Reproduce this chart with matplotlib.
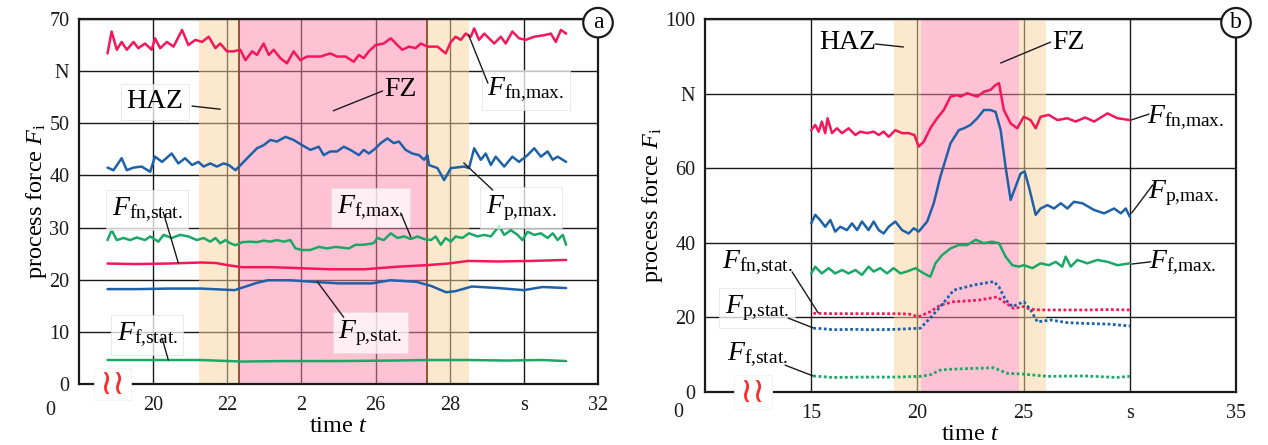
import numpy as np
import matplotlib.pyplot as plt
from matplotlib.patches import Rectangle

plt.rcParams['font.family'] = ['Liberation Serif', 'DejaVu Serif']
plt.rcParams['mathtext.fontset'] = 'custom'
plt.rcParams['mathtext.rm'] = 'Liberation Serif'
plt.rcParams['mathtext.it'] = 'Liberation Serif:italic'

# ---- panel a data ----
a_fn_max_t = [18.77, 18.88, 19.02, 19.15, 19.29, 19.47, 19.6, 19.78, 19.96, 20.05, 20.19, 20.37, 20.55, 20.78, 20.95,
              21.14, 21.32, 21.5, 21.68, 21.81, 21.99, 22.17, 22.35, 22.49, 22.67, 22.8, 22.98, 23.12, 23.25, 23.43,
              23.61, 23.79, 23.97, 24.15, 24.51, 24.78, 24.96, 25.19, 25.41, 25.55, 25.68, 25.82, 26.0, 26.22, 26.41,
              26.59, 26.72, 26.9, 27.08, 27.22, 27.4, 27.67, 27.89, 28.03, 28.16, 28.3, 28.43, 28.57, 28.66, 28.79,
              28.93, 29.06, 29.2, 29.38, 29.51, 29.69, 29.87, 30.05, 30.28, 30.55, 30.73, 30.86, 31.0, 31.14]
a_fn_max = [63.4, 67.6, 64.1, 65.6, 64.1, 65.6, 64.4, 65.3, 64.1, 66.3, 64.4, 65.6, 64.7, 67.9, 65.0,
            66.0, 65.6, 66.6, 64.4, 65.3, 63.8, 63.8, 64.1, 62.1, 63.8, 63.1, 65.3, 63.1, 64.1, 62.5,
            61.5, 63.8, 62.1, 62.8, 62.8, 63.4, 62.8, 62.8, 61.8, 63.1, 62.5, 63.8, 65.0, 65.3, 66.3,
            65.0, 64.1, 64.7, 64.4, 65.3, 64.7, 64.7, 63.4, 65.6, 66.6, 66.0, 67.2, 66.6, 68.2, 66.0,
            67.2, 66.3, 65.3, 66.6, 65.3, 67.6, 66.3, 66.0, 66.6, 66.9, 67.2, 65.6, 67.9, 67.2]

a_p_max_t = [18.77, 18.93, 19.15, 19.29, 19.47, 19.69, 19.92, 20.05, 20.24, 20.5, 20.68, 20.86, 21.05, 21.22, 21.36,
             21.54, 21.72, 21.9, 22.04, 22.22, 22.4, 22.62, 22.8, 22.98, 23.16, 23.34, 23.57, 23.79, 24.02, 24.24,
             24.47, 24.6, 24.78, 24.96, 25.14, 25.32, 25.55, 25.68, 25.82, 26.0, 26.14, 26.32, 26.49, 26.63, 26.81,
             26.99, 27.17, 27.31, 27.4, 27.44, 27.67, 27.85, 28.03, 28.39, 28.52, 28.66, 28.84, 28.97, 29.11, 29.24,
             29.47, 29.69, 29.87, 30.1, 30.28, 30.46, 30.64, 30.78, 30.91, 31.14]
a_p_max = [41.5, 41.0, 43.3, 41.0, 41.5, 41.7, 40.7, 43.6, 42.6, 44.2, 42.3, 43.3, 42.0, 42.6, 41.7,
           42.3, 41.7, 42.3, 42.0, 41.0, 42.3, 43.9, 45.2, 45.8, 46.8, 46.5, 47.4, 46.8, 45.8, 44.9,
           45.5, 43.9, 44.6, 44.6, 45.5, 44.9, 43.9, 44.9, 44.2, 45.2, 46.2, 47.1, 46.2, 46.5, 44.9,
           44.2, 43.9, 43.0, 43.9, 42.0, 41.4, 39.1, 41.4, 41.7, 41.4, 45.2, 43.0, 44.2, 42.0, 43.6,
           41.7, 43.6, 42.6, 43.9, 45.2, 43.6, 44.6, 43.0, 43.6, 42.6]

a_f_max_t = [18.77, 18.88, 19.02, 19.2, 19.38, 19.56, 19.78, 19.92, 20.14, 20.28, 20.5, 20.73, 20.95, 21.18, 21.36,
             21.54, 21.68, 21.81, 21.95, 22.08, 22.22, 22.4, 22.62, 22.8, 22.98, 23.16, 23.34, 23.52, 23.7, 23.84,
             24.02, 24.24, 24.47, 24.69, 24.92, 25.28, 25.46, 25.68, 25.95, 26.05, 26.22, 26.41, 26.59, 26.77, 26.95,
             27.13, 27.31, 27.49, 27.62, 27.76, 27.89, 28.03, 28.16, 28.34, 28.52, 28.75, 28.93, 29.11, 29.33, 29.47,
             29.65, 29.83, 29.96, 30.1, 30.28, 30.46, 30.64, 30.78, 30.91, 31.05, 31.14]
a_f_max = [27.6, 29.5, 27.6, 28.0, 27.6, 28.1, 27.6, 28.3, 27.3, 28.6, 28.0, 28.6, 28.3, 27.6, 28.0,
           27.3, 28.0, 27.0, 27.6, 27.0, 26.6, 27.2, 27.3, 27.2, 27.5, 27.3, 27.6, 27.3, 27.6, 26.0,
           25.7, 25.7, 26.3, 26.0, 26.3, 26.0, 26.7, 26.7, 27.0, 28.0, 27.6, 28.9, 28.0, 28.3, 27.8,
           28.3, 27.8, 27.6, 28.3, 26.7, 28.0, 27.3, 28.3, 28.0, 28.9, 28.3, 28.6, 28.3, 30.3, 28.6,
           29.5, 28.6, 27.6, 29.2, 28.6, 28.9, 28.0, 28.9, 27.6, 28.6, 26.7]

a_fn_stat_t = [18.77, 19.5, 20.4, 21.3, 21.7, 22.0, 22.4, 23.2, 24.0, 24.8, 25.7, 26.6, 27.4, 27.95, 28.5, 29.3, 30.2, 31.14]
a_fn_stat = [23.1, 23.0, 23.1, 23.3, 23.2, 22.8, 22.4, 22.4, 22.2, 22.0, 22.0, 22.5, 22.8, 23.1, 23.6, 23.5, 23.6, 23.8]

a_p_stat_t = [18.77, 19.6, 20.4, 21.3, 22.2, 22.5, 22.8, 23.1, 23.7, 24.3, 25.0, 25.9, 26.4, 27.1, 27.5, 27.9,
              28.15, 28.6, 29.3, 30.0, 30.5, 31.14]
a_p_stat = [18.2, 18.2, 18.3, 18.3, 18.0, 18.7, 19.4, 19.9, 19.9, 19.6, 19.3, 19.3, 19.9, 19.6, 18.8, 17.6,
            17.8, 18.7, 18.4, 18.0, 18.6, 18.4]

a_f_stat_t = [18.77, 20.0, 21.3, 22.4, 23.5, 25.0, 26.5, 27.4, 28.5, 29.5, 30.5, 31.14]
a_f_stat = [4.6, 4.6, 4.6, 4.3, 4.4, 4.4, 4.5, 4.6, 4.6, 4.5, 4.6, 4.4]

# ---- panel b data ----
b_fn_max_t = [15.0, 15.19, 15.35, 15.5, 15.66, 15.77, 15.98, 16.21, 16.45, 16.76, 17.08, 17.31, 17.63, 17.94, 18.18,
              18.41, 18.65, 18.96, 19.28, 19.59, 19.86, 20.06, 20.3, 20.61, 20.93, 21.24, 21.56, 21.87, 22.03, 22.34,
              22.82, 23.13, 23.44, 23.68, 23.84, 24.07, 24.39, 24.7, 25.01, 25.33, 25.57, 25.8, 26.19, 26.59, 27.06,
              27.45, 27.9, 28.32, 28.95, 29.42, 30.0]
b_fn_max = [70.2, 71.6, 69.8, 72.5, 69.4, 73.4, 69.4, 70.7, 69.4, 70.7, 68.9, 69.8, 69.4, 69.8, 68.9,
            69.8, 68.4, 70.2, 69.4, 69.4, 68.9, 65.8, 67.1, 70.7, 73.4, 75.6, 79.2, 79.6, 79.2, 80.1,
            79.2, 80.5, 81.0, 82.3, 82.8, 75.6, 72.0, 70.7, 73.8, 72.9, 70.7, 73.8, 74.3, 72.9, 73.4,
            72.5, 73.6, 72.5, 74.7, 73.4, 72.9]

b_p_max_t = [15.0, 15.19, 15.42, 15.66, 15.9, 16.13, 16.37, 16.68, 16.92, 17.16, 17.39, 17.7, 17.94, 18.18, 18.41,
             18.65, 18.96, 19.28, 19.59, 19.83, 20.06, 20.46, 20.77, 21.08, 21.56, 21.95, 22.19, 22.5, 22.82, 23.13,
             23.44, 23.68, 23.92, 24.15, 24.39, 24.62, 24.86, 25.05, 25.25, 25.57, 25.8, 26.12, 26.43, 26.75, 27.06,
             27.37, 27.77, 28.32, 28.79, 29.26, 29.58, 29.81, 30.0]
b_p_max = [45.2, 47.5, 46.1, 44.3, 46.1, 43.0, 44.3, 43.4, 45.2, 43.4, 45.7, 43.4, 45.7, 43.4, 42.5,
           44.3, 45.7, 43.4, 42.5, 43.9, 43.0, 45.7, 50.6, 57.7, 66.7, 70.2, 70.7, 71.6, 73.4, 75.6,
           75.6, 75.1, 70.2, 60.4, 51.5, 55.0, 58.6, 59.1, 55.0, 47.5, 49.2, 50.1, 49.2, 50.6, 49.2,
           51.0, 50.6, 48.8, 47.9, 49.2, 47.9, 49.2, 47.0]

b_f_max_t = [15.0, 15.19, 15.5, 15.82, 16.13, 16.45, 16.76, 17.08, 17.39, 17.7, 17.94, 18.25, 18.57, 18.88, 19.2,
             19.51, 19.91, 20.3, 20.61, 20.85, 21.16, 21.56, 21.95, 22.34, 22.74, 23.13, 23.52, 23.84, 24.15, 24.47,
             24.78, 25.01, 25.41, 25.8, 26.19, 26.51, 26.82, 26.98, 27.22, 27.53, 28.0, 28.48, 28.95, 29.42, 30.0]
b_f_max = [31.8, 33.6, 31.8, 33.2, 31.8, 32.7, 31.8, 32.7, 31.4, 33.6, 32.3, 33.2, 31.8, 33.2, 31.8,
           32.3, 33.2, 31.8, 30.9, 34.5, 36.7, 38.5, 39.4, 39.4, 40.8, 39.9, 40.3, 39.9, 36.3, 34.0,
           33.6, 34.0, 33.2, 34.5, 34.0, 34.9, 33.6, 36.3, 33.6, 35.4, 34.5, 35.4, 34.9, 34.0, 34.5]

b_fn_stat_t = [15.1, 16.0, 17.0, 18.0, 19.0, 19.6, 20.05, 20.6, 21.08, 21.7, 22.3, 22.97, 23.76, 24.07, 24.54,
               25.0, 25.3, 25.8, 26.9, 28.0, 29.0, 30.0]
b_fn_stat = [21.1, 21.0, 21.0, 21.0, 21.0, 20.9, 20.2, 21.5, 23.3, 24.2, 24.4, 24.7, 25.5, 24.2, 22.4,
             22.9, 22.2, 22.0, 22.0, 22.0, 22.1, 22.0]

b_p_stat_t = [15.1, 15.5, 16.0, 17.0, 17.9, 19.0, 20.14, 20.6, 21.08, 21.71, 22.66, 23.6, 23.84, 24.15, 24.47,
              25.01, 25.33, 25.65, 26.27, 27.06, 27.85, 29.0, 30.0]
b_p_stat = [17.1, 17.0, 16.7, 16.8, 16.7, 16.8, 17.1, 19.8, 22.9, 27.3, 28.7, 29.6, 28.2, 24.7, 22.9,
            24.2, 22.0, 18.8, 19.3, 18.6, 18.4, 18.2, 17.7]

b_f_stat_t = [15.1, 16.0, 17.5, 19.0, 20.14, 20.6, 21.08, 21.56, 22.5, 23.6, 24.23, 25.0, 26.1, 27.85, 29.4, 30.0]
b_f_stat = [4.3, 3.9, 4.0, 4.0, 4.2, 4.6, 5.9, 6.1, 6.3, 6.5, 5.0, 4.8, 4.2, 4.3, 3.9, 4.2]

RED = '#f5175a'
BLUE = '#1d61a8'
GREEN = '#19a865'
HAZ_C = '#fbd29a'
FZ_C = '#ff86aa'
INK = '#1a1a1a'

BOX = dict(boxstyle='square,pad=0.2', fc='white', ec='#dddddd', lw=0.6, alpha=0.75)


def setup(ax, xlim, ylim, xt, xtl, yt, ytl):
    ax.set_xlim(*xlim)
    ax.set_ylim(*ylim)
    ax.set_xticks(xt)
    ax.set_xticklabels(xtl)
    ax.set_yticks(yt)
    ax.set_yticklabels(ytl)
    ax.set_axisbelow(True)
    ax.grid(True, color=INK, lw=1.0)
    for s in ax.spines.values():
        s.set_linewidth(1.6)
        s.set_color(INK)
    ax.tick_params(length=0, labelsize=14.5, colors=INK)
    ax.tick_params(axis='x', pad=9)
    ax.tick_params(axis='y', pad=7)
    ax.set_xlabel('time $t$', fontsize=17.5, labelpad=0)
    ax.set_ylabel('process force $F_\\mathrm{i}$', fontsize=17.5, labelpad=0)


def note(ax, txt, xy_text, xy_end, xy_start, box=True, size=20):
    ax.text(*xy_text, txt, fontsize=size, ha='center', va='center',
            bbox=BOX if box else None, zorder=6)
    ax.annotate('', xy=xy_end, xytext=xy_start,
                arrowprops=dict(arrowstyle='-', lw=1.0, color=INK, shrinkA=0, shrinkB=0), zorder=6)


def marks(ax, label, bx, origin_off):
    ax.text(1.0, 0.99, label, transform=ax.transAxes, fontsize=17, ha='center', va='center',
            bbox=dict(boxstyle='circle,pad=0.18', fc='white', ec=INK, lw=1.6), zorder=8, clip_on=False)
    ax.add_patch(Rectangle((bx - 0.036, -0.045), 0.072, 0.09, transform=ax.transAxes, fc='white',
                           ec='#eeeeee', lw=0.5, zorder=7, clip_on=False))
    ax.text(bx, 0.0, '\u2240\u2240', transform=ax.transAxes, fontsize=25, color='#ff2a2a',
            ha='center', va='center', family='DejaVu Sans', zorder=8, clip_on=False)
    ax.annotate('0', xy=(0, 0), xycoords='axes fraction', xytext=origin_off, textcoords='offset points',
                fontsize=14.5, ha='center', va='center', color=INK)


fig = plt.figure(figsize=(12.68, 4.45), dpi=100)
ax_a = fig.add_axes([79 / 1268, 61 / 445, 519 / 1268, 365 / 445])
ax_b = fig.add_axes([705 / 1268, 53 / 445, 531 / 1268, 373 / 445])

# panel a
setup(ax_a, (18, 32), (0, 70), [20, 22, 24, 26, 28, 30, 32], ['20', '22', '2', '26', '28', 's', '32'],
      [0, 10, 20, 30, 40, 50, 60, 70], ['0', '10', '20', '30', '40', '50', 'N', '70'])
ax_a.axvspan(21.24, 22.32, color=HAZ_C, alpha=0.5, lw=0, zorder=1)
ax_a.axvspan(22.32, 27.4, color=FZ_C, alpha=0.5, lw=0, zorder=1)
ax_a.axvspan(27.4, 28.51, color=HAZ_C, alpha=0.5, lw=0, zorder=1)
for xb in (22.32, 27.4):
    ax_a.axvline(xb, color='#8a4a28', lw=1.3, zorder=1.5)

kw = dict(lw=1.8, zorder=3, solid_joinstyle='round', solid_capstyle='round')
ax_a.plot(a_fn_max_t, a_fn_max, color=RED, **kw)
ax_a.plot(a_p_max_t, a_p_max, color=BLUE, **kw)
ax_a.plot(a_f_max_t, a_f_max, color=GREEN, **kw)
ax_a.plot(a_fn_stat_t, a_fn_stat, color=RED, **kw)
ax_a.plot(a_p_stat_t, a_p_stat, color=BLUE, **kw)
ax_a.plot(a_f_stat_t, a_f_stat, color=GREEN, **kw)

note(ax_a, 'HAZ', (20.05, 54.1), (21.81, 52.7), (21.05, 53.3))
note(ax_a, 'FZ', (26.68, 56.4), (24.86, 52.4), (26.19, 56.2), box=False)
note(ax_a, '$F_\\mathrm{fn{,}max.}$', (30.05, 56.4), (28.51, 66.9), (29.03, 57.7))
note(ax_a, '$F_\\mathrm{p{,}max.}$', (29.92, 33.8), (28.38, 42.4), (29.16, 37.2))
note(ax_a, '$F_\\mathrm{f{,}max.}$', (25.86, 33.8), (26.95, 28.2), (26.68, 32.8))
note(ax_a, '$F_\\mathrm{fn{,}stat.}$', (19.84, 33.4), (20.68, 23.2), (20.27, 33.0))
note(ax_a, '$F_\\mathrm{f{,}stat.}$', (19.84, 9.4), (20.41, 4.6), (20.24, 8.8))
note(ax_a, '$F_\\mathrm{p{,}stat.}$', (25.86, 9.8), (24.43, 19.6), (25.14, 12.8))
marks(ax_a, 'a', 0.064, (-21, -19))

# panel b
setup(ax_b, (10, 35), (0, 100), [15, 20, 25, 30, 35], ['15', '20', '25', 's', '35'],
      [0, 20, 40, 60, 80, 100], ['0', '20', '40', '60', 'N', '100'])
ax_b.axvspan(18.92, 20.19, color=HAZ_C, alpha=0.5, lw=0, zorder=1)
ax_b.axvspan(20.19, 24.76, color=FZ_C, alpha=0.5, lw=0, zorder=1)
ax_b.axvspan(24.76, 26.04, color=HAZ_C, alpha=0.5, lw=0, zorder=1)

ax_b.plot(b_fn_max_t, b_fn_max, color=RED, **kw)
ax_b.plot(b_p_max_t, b_p_max, color=BLUE, **kw)
ax_b.plot(b_f_max_t, b_f_max, color=GREEN, **kw)
dots = (0, (1.0, 0.9))
ax_b.plot(b_fn_stat_t, b_fn_stat, color=RED, lw=2.0, ls=dots, zorder=3)
ax_b.plot(b_p_stat_t, b_p_stat, color=BLUE, lw=2.0, ls=dots, zorder=3)
ax_b.plot(b_f_stat_t, b_f_stat, color=GREEN, lw=2.0, ls=dots, zorder=3)

note(ax_b, 'HAZ', (16.7, 93.6), (19.34, 92.5), (18.02, 93.3), box=False)
note(ax_b, 'FZ', (27.12, 93.6), (23.92, 88.2), (26.27, 93.8), box=False)
note(ax_b, '$F_\\mathrm{fn{,}max.}$', (32.64, 73.5), (30.05, 72.9), (30.9, 74.5), box=False)
note(ax_b, '$F_\\mathrm{p{,}max.}$', (32.5, 53.4), (30.09, 48.0), (31.08, 55.5), box=False)
note(ax_b, '$F_\\mathrm{f{,}max.}$', (32.5, 34.6), (30.09, 34.3), (30.99, 34.9), box=False)
note(ax_b, '$F_\\mathrm{fn{,}stat.}$', (12.45, 34.6), (15.33, 21.2), (14.1, 32.2), box=False)
note(ax_b, '$F_\\mathrm{p{,}stat.}$', (12.45, 22.5), (15.09, 17.2), (13.92, 19.8))
note(ax_b, '$F_\\mathrm{f{,}stat.}$', (12.45, 9.9), (15.09, 4.3), (13.77, 7.2), box=False)
marks(ax_b, 'b', 0.09, (-19, -15))

fig.savefig('out.png', dpi=100)
